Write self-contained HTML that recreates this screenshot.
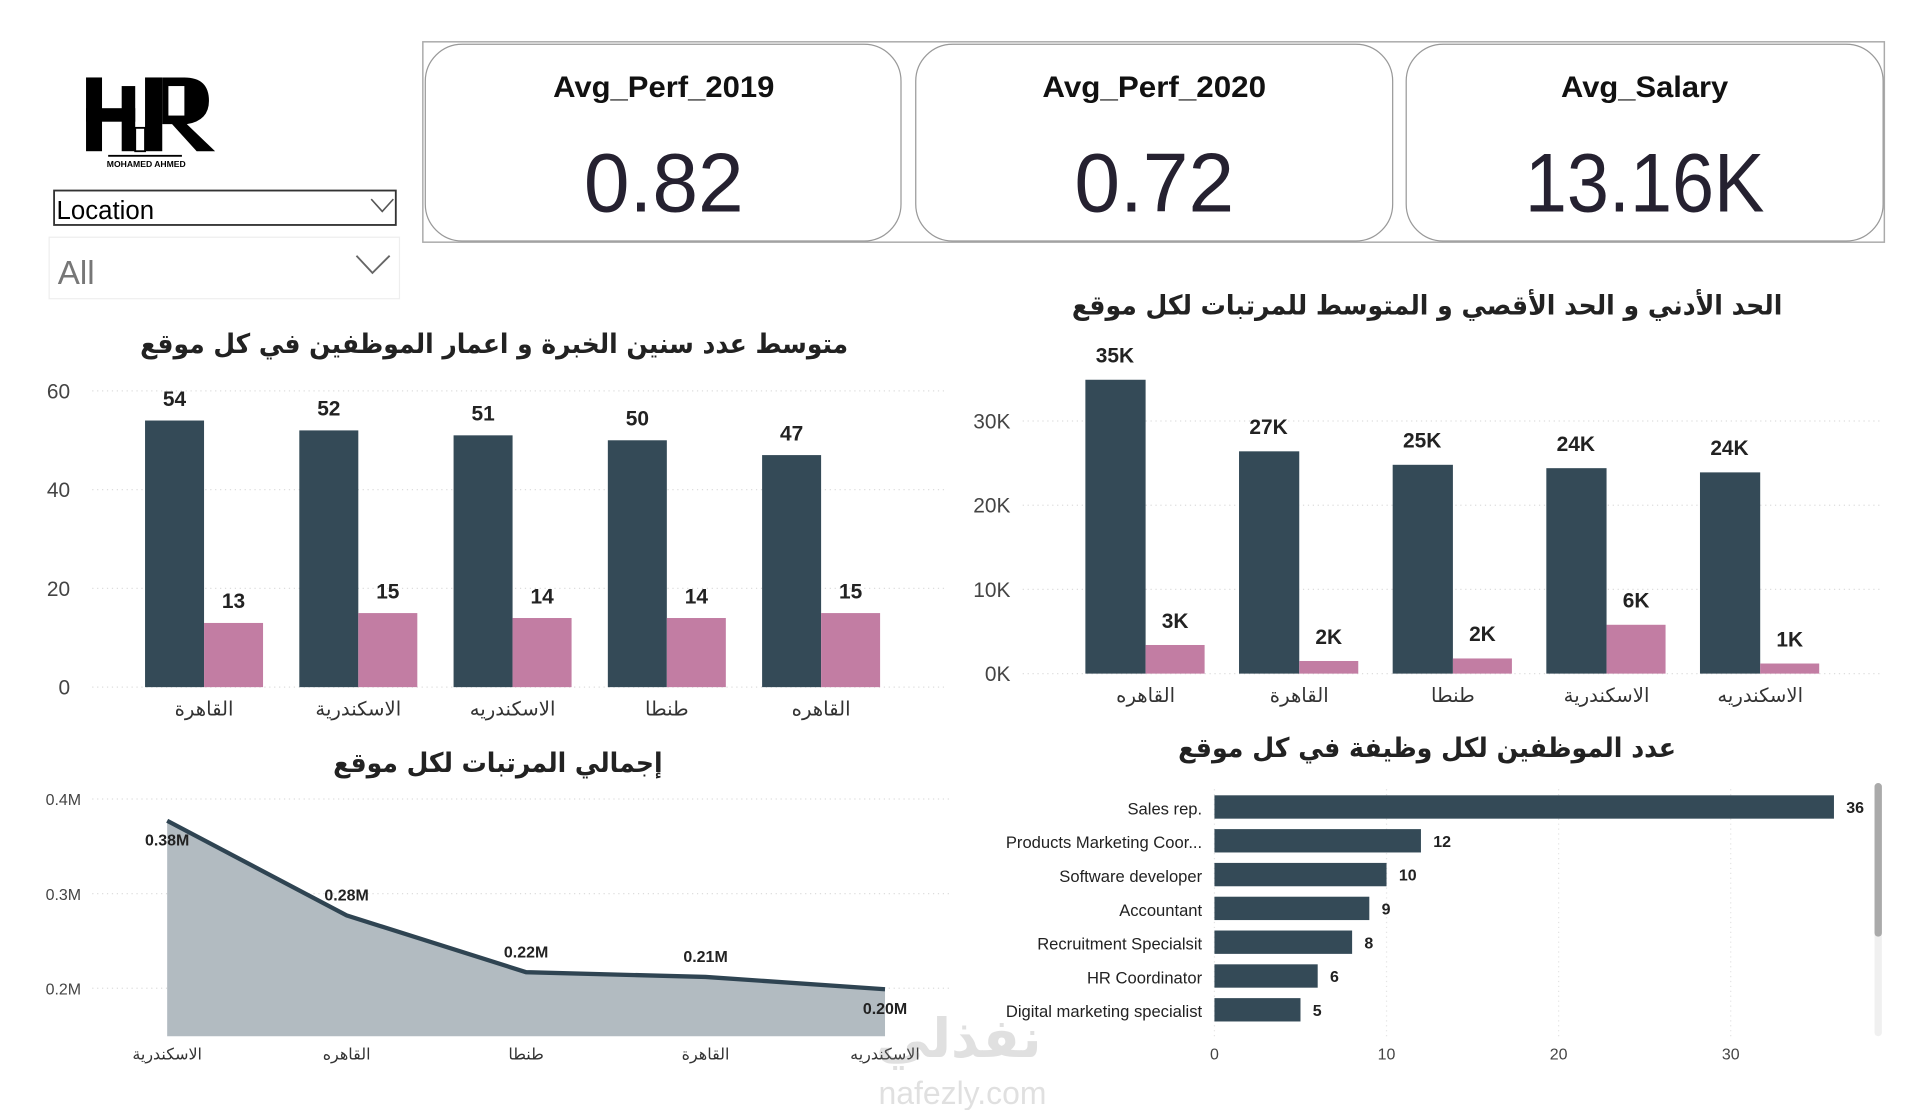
<!DOCTYPE html>
<html><head><meta charset="utf-8">
<style>
html,body{margin:0;padding:0;background:#fff;width:1920px;height:1110px;overflow:hidden}
svg{display:block}
text{font-family:"Liberation Sans","DejaVu Sans",sans-serif}
.ar{font-family:"DejaVu Sans","Liberation Sans",sans-serif}
</style></head>
<body>
<svg id="root" width="1920" height="1110" viewBox="0 0 1562 903" xmlns="http://www.w3.org/2000/svg">
  <g>
    <rect x="70" y="63" width="13" height="60" fill="#000"/>
    <rect x="70" y="88" width="40" height="11" fill="#000"/>
    <rect x="99" y="70" width="11" height="53" fill="#000"/>
    <rect x="118" y="63" width="14" height="60" fill="#000"/>
    <path d="M118 63 H150 Q170 63 170 82 Q170 98 152 101 L175 123 H160 L140 101 H132 V63 Z" fill="#000"/>
    <rect x="137" y="70" width="13" height="24" fill="#fff"/>
    <rect x="110" y="104" width="8" height="19" fill="#fff" stroke="#000" stroke-width="1.5"/>
    <rect x="88" y="126" width="60" height="1.5" fill="#000"/>
    <text x="119" y="136" font-size="7" font-weight="bold" text-anchor="middle">MOHAMED AHMED</text>
  </g>
  <g>
    <rect x="44" y="155" width="278" height="28" fill="#fff" stroke="#333" stroke-width="1.5"/>
    <text x="46" y="178" font-size="21">Location</text>
    <path d="M302 162 L311 172 L320 162" fill="none" stroke="#555" stroke-width="1.3"/>
  </g>
  <g>
    <rect x="40" y="193" width="285" height="50" fill="#fff" stroke="#eee" stroke-width="1"/>
    <text x="47" y="231" font-size="27" fill="#777">All</text>
    <path d="M290 208 L303 222 L317 208" fill="none" stroke="#666" stroke-width="1.5"/>
  </g>
  <rect x="344" y="34" width="1189" height="163" fill="none" stroke="#aaa" stroke-width="1.2"/>
  <g>
    <rect x="346" y="36" width="387" height="160" rx="30" fill="#fff" stroke="#999" stroke-width="1"/>
    <text x="540" y="79" font-size="24" font-weight="bold" text-anchor="middle" fill="#111" textLength="180" lengthAdjust="spacingAndGlyphs">Avg_Perf_2019</text>
    <text x="540" y="172" font-size="68" text-anchor="middle" fill="#252130" textLength="130" lengthAdjust="spacingAndGlyphs">0.82</text>
  </g>
  <g>
    <rect x="745" y="36" width="388" height="160" rx="30" fill="#fff" stroke="#999" stroke-width="1"/>
    <text x="939" y="79" font-size="24" font-weight="bold" text-anchor="middle" fill="#111" textLength="182" lengthAdjust="spacingAndGlyphs">Avg_Perf_2020</text>
    <text x="939" y="172" font-size="68" text-anchor="middle" fill="#252130" textLength="130" lengthAdjust="spacingAndGlyphs">0.72</text>
  </g>
  <g>
    <rect x="1144" y="36" width="388" height="160" rx="30" fill="#fff" stroke="#999" stroke-width="1"/>
    <text x="1338" y="79" font-size="24" font-weight="bold" text-anchor="middle" fill="#111" textLength="136" lengthAdjust="spacingAndGlyphs">Avg_Salary</text>
    <text x="1338" y="172" font-size="68" text-anchor="middle" fill="#252130" textLength="195" lengthAdjust="spacingAndGlyphs">13.16K</text>
  </g>
  <text class="ar" x="402" y="287" font-size="22" font-weight="bold" text-anchor="middle" fill="#222" textLength="576" lengthAdjust="spacingAndGlyphs">متوسط عدد سنين الخبرة و اعمار الموظفين في كل موقع</text>
  <text class="ar" x="1161" y="256" font-size="22" font-weight="bold" text-anchor="middle" fill="#222" textLength="578" lengthAdjust="spacingAndGlyphs">الحد الأدني و الحد الأقصي و المتوسط للمرتبات لكل موقع</text>
  <text class="ar" x="405" y="628" font-size="22" font-weight="bold" text-anchor="middle" fill="#222" textLength="268" lengthAdjust="spacingAndGlyphs">إجمالي المرتبات لكل موقع</text>
  <text class="ar" x="1161" y="616" font-size="22" font-weight="bold" text-anchor="middle" fill="#222" textLength="405" lengthAdjust="spacingAndGlyphs">عدد الموظفين لكل وظيفة في كل موقع</text>
  <g id="c1"></g>
  <g id="c2"></g>
  <g id="c3"></g>
  <g id="c4"></g>
  <g>
    <rect x="1525" y="637" width="6" height="206" rx="3" fill="#f0f0f0"/>
    <rect x="1525" y="637" width="6" height="125" rx="3" fill="#aaa"/>
  </g>
  <g opacity="0.25">
    <text class="ar" x="780" y="860" font-size="44" font-weight="bold" text-anchor="middle" fill="#888">نفذلي</text>
    <text x="783" y="898" font-size="26" text-anchor="middle" fill="#888">nafezly.com</text>
  </g>
</svg>
<script>
const NS="http://www.w3.org/2000/svg";
const DARK="#344a57", PINK="#c27da3";
const c1Cats=["القاهرة","الاسكندرية","الاسكندريه","طنطا","القاهره"];
const c1Age=[54,52,51,50,47];
const c1Exp=[13,15,14,14,15];
const c1Ticks=[0,20,40,60];
const c2Cats=["القاهره","القاهرة","طنطا","الاسكندرية","الاسكندريه"];
const c2Max=[34.9,26.4,24.8,24.4,23.9];
const c2Min=[3.4,1.5,1.8,5.8,1.2];
const c2MaxLbl=["35K","27K","25K","24K","24K"];
const c2MinLbl=["3K","2K","2K","6K","1K"];
const c2Ticks=[0,10,20,30];
const c3Cats=["الاسكندرية","القاهره","طنطا","القاهرة","الاسكندريه"];
const c3Vals=[0.377,0.277,0.217,0.212,0.199];
const c3Ticks=[0.2,0.3,0.4];
const c4Cats=["Sales rep.","Products Marketing Coor...","Software developer","Accountant","Recruitment Specialsit","HR Coordinator","Digital marketing specialist"];
const c4Vals=[36,12,10,9,8,6,5];
const c4Ticks=[0,10,20,30];

function el(parent,tag,attrs,txt){const e=document.createElementNS(NS,tag);for(const k in attrs)e.setAttribute(k,attrs[k]);if(txt!==undefined)e.textContent=txt;parent.appendChild(e);return e;}

(function(){
  const g=document.getElementById('c1');
  const y=v=>559-v*(241/60);
  c1Ticks.forEach(t=>{
    const l=el(g,'line',{x1:75,x2:770,y1:y(t),y2:y(t),stroke:'#ddd','stroke-dasharray':'1 3'});
    
    
    const tx=el(g,'text',{x:57,y:y(t)+6,'font-size':17,'text-anchor':'end',fill:'#444'},t);
    
    
  });
  c1Cats.forEach((c,i)=>{
    const x0=118+i*125.5;
    const b=el(g,'rect',{x:x0,y:y(c1Age[i]),width:48,height:559-y(c1Age[i]),fill:DARK});
    
    
    const p=el(g,'rect',{x:x0+48,y:y(c1Exp[i]),width:48,height:559-y(c1Exp[i]),fill:PINK});
    
    
    const t1=el(g,'text',{x:x0+24,y:y(c1Age[i])-12,'font-size':17,'font-weight':'bold','text-anchor':'middle',fill:'#222'},c1Age[i]);
    
    
    const t2=el(g,'text',{x:x0+72,y:y(c1Exp[i])-12,'font-size':17,'font-weight':'bold','text-anchor':'middle',fill:'#222'},c1Exp[i]);
    
    
    const ct=el(g,'text',{x:x0+48,y:582,'font-size':16,'text-anchor':'middle',fill:'#333',class:'ar'},c);
    
    
  });
})();

(function(){
  const g=document.getElementById('c2');
  const y=v=>548-v*6.85;
  c2Ticks.forEach(t=>{
    const l=el(g,'line',{x1:832,x2:1530,y1:y(t),y2:y(t),stroke:'#ddd','stroke-dasharray':'1 3'});
    
    
    const tx=el(g,'text',{x:822,y:y(t)+6,'font-size':17,'text-anchor':'end',fill:'#444'},t+'K');
    
    
  });
  c2Cats.forEach((c,i)=>{
    const x0=883+i*125;
    const b=el(g,'rect',{x:x0,y:y(c2Max[i]),width:49,height:548-y(c2Max[i]),fill:DARK});
    
    
    const p=el(g,'rect',{x:x0+49,y:y(c2Min[i]),width:48,height:548-y(c2Min[i]),fill:PINK});
    
    
    const t1=el(g,'text',{x:x0+24,y:y(c2Max[i])-14,'font-size':17,'font-weight':'bold','text-anchor':'middle',fill:'#222'},c2MaxLbl[i]);
    
    
    const t2=el(g,'text',{x:x0+73,y:y(c2Min[i])-14,'font-size':17,'font-weight':'bold','text-anchor':'middle',fill:'#222'},c2MinLbl[i]);
    
    
    const ct=el(g,'text',{x:x0+49,y:571,'font-size':16,'text-anchor':'middle',fill:'#333',class:'ar'},c);
    
    
  });
})();

(function(){
  const g=document.getElementById('c3');
  const y=v=>804-(v-0.2)*770;
  const x=i=>136+i*146;
  c3Ticks.forEach(t=>{
    const l=el(g,'line',{x1:75,x2:775,y1:y(t),y2:y(t),stroke:'#ddd','stroke-dasharray':'1 3'});
    
    
    const tx=el(g,'text',{x:66,y:y(t)+5,'font-size':13,'text-anchor':'end',fill:'#444'},t.toFixed(1)+'M');
    
    
  });
  const base=843;
  let d='M'+x(0)+' '+base;
  c3Vals.forEach((v,i)=>{d+=' L'+x(i)+' '+y(v);});
  d+=' L'+x(c3Vals.length-1)+' '+base+' Z';
  const a=el(g,'path',{d:d,fill:'#b2bbc1'});
  
  
  const ln=el(g,'polyline',{points:c3Vals.map((v,i)=>x(i)+','+y(v)).join(' '),fill:'none',stroke:'#2f4452','stroke-width':3.5});
  
  
  c3Vals.forEach((v,i)=>{
    const off=(i===0||i===4)?20:-12;
    const t=el(g,'text',{x:x(i),y:y(v)+off,'font-size':13,'font-weight':'bold','text-anchor':'middle',fill:'#222'},v.toFixed(2)+'M');
    
    
    const ct=el(g,'text',{x:x(i),y:862,'font-size':13,'text-anchor':'middle',fill:'#333',class:'ar'},c3Cats[i]);
    
    
  });
})();

(function(){
  const g=document.getElementById('c4');
  const x=v=>988+v*14;
  c4Ticks.forEach(t=>{
    const l=el(g,'line',{x1:x(t),x2:x(t),y1:642,y2:843,stroke:'#e4e4e4','stroke-dasharray':'1 3'});
    
    
    const tx=el(g,'text',{x:x(t),y:862,'font-size':13,'text-anchor':'middle',fill:'#444'},t);
    
    
  });
  c4Cats.forEach((c,i)=>{
    const cy=656.5+i*27.5;
    const b=el(g,'rect',{x:x(0),y:cy-9.5,width:x(c4Vals[i])-x(0),height:19,fill:DARK});
    
    
    const t=el(g,'text',{x:x(c4Vals[i])+10,y:cy+5,'font-size':13,'font-weight':'bold',fill:'#222'},c4Vals[i]);
    
    
    const ct=el(g,'text',{x:978,y:cy+6,'font-size':13.5,'text-anchor':'end',fill:'#222'},c);
    
    
  });
})();
</script>
</body></html>
